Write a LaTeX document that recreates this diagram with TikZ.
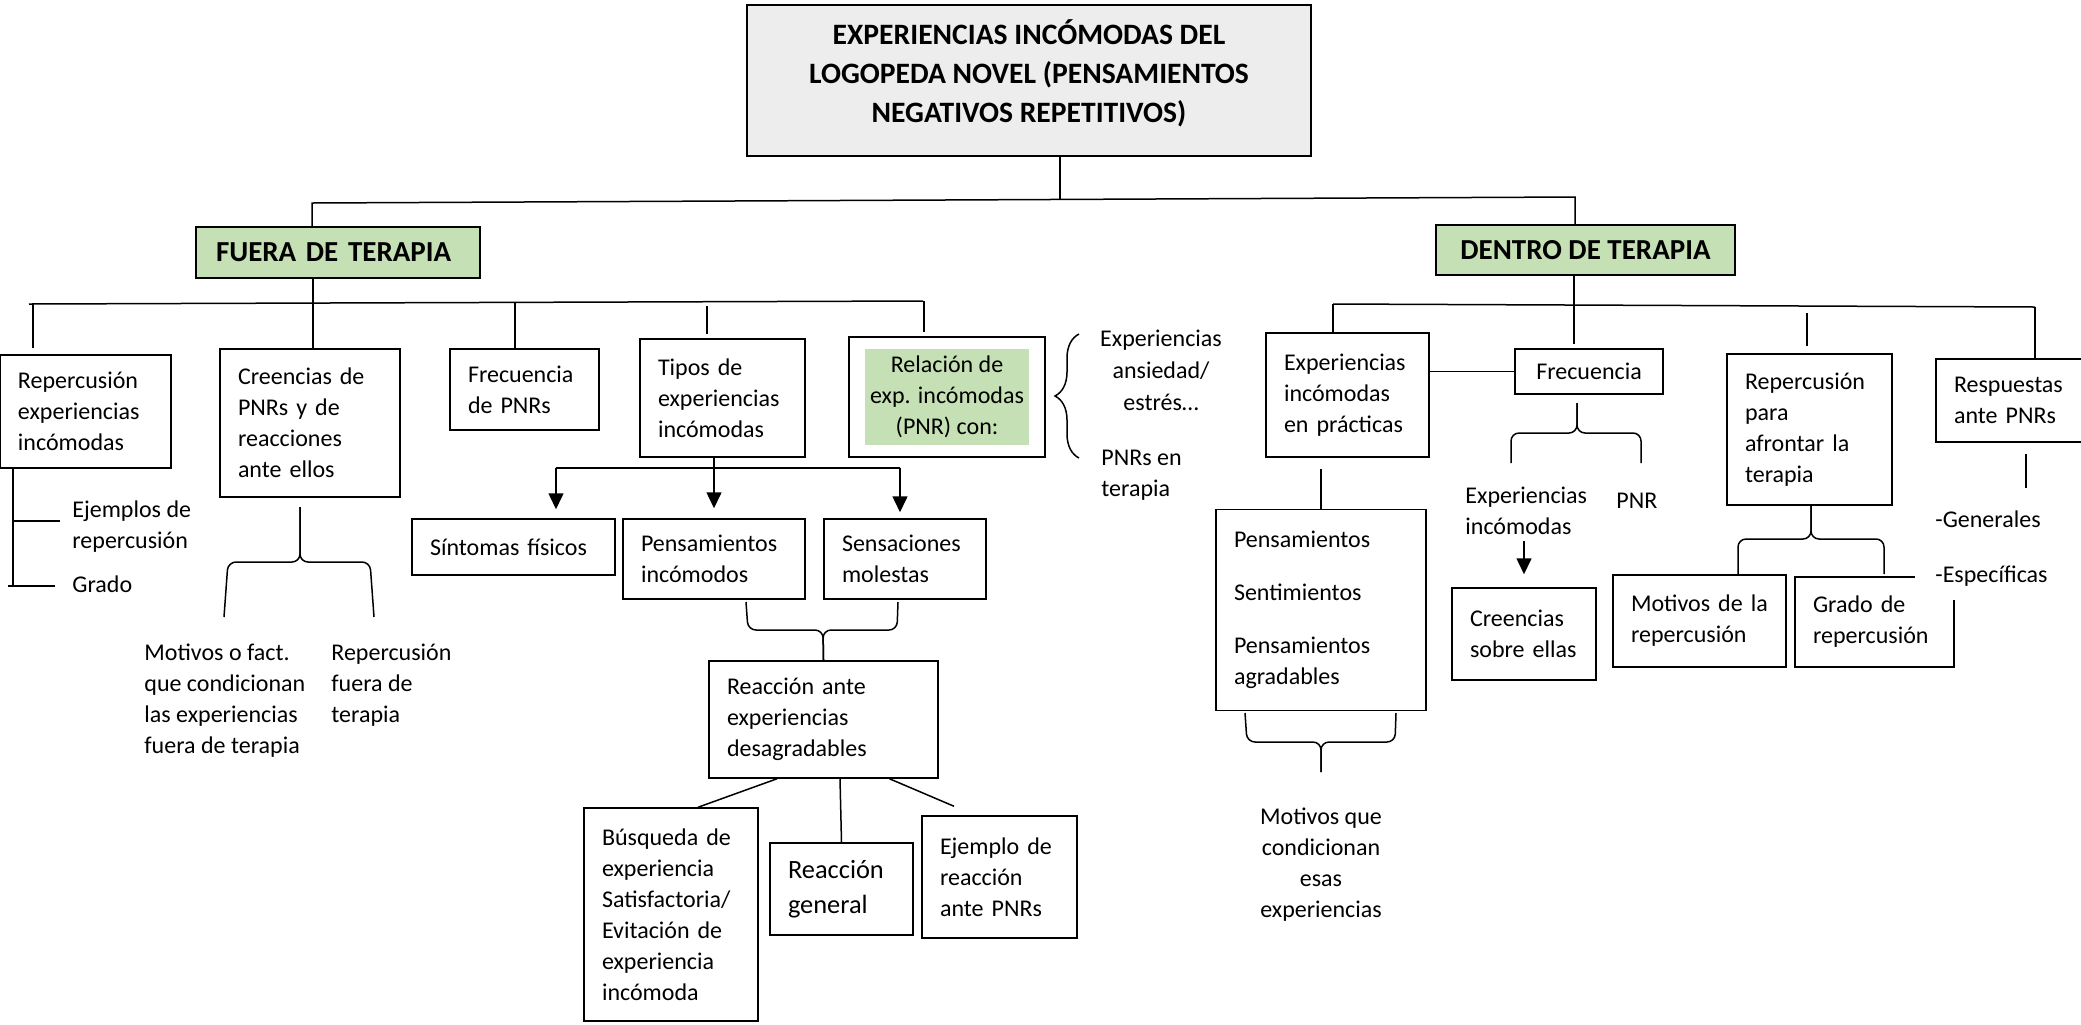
\documentclass[tikz,border=0pt]{standalone}
\usepackage{fontspec}
\setmainfont{Carlito}
\usetikzlibrary{arrows.meta,decorations.pathreplacing}

\definecolor{headgreen}{HTML}{C5E0B4}
\definecolor{titlegray}{HTML}{EDEDED}

\tikzset{
	box/.style={draw, line width=0.75pt, inner sep=0pt, align=left, font=\fontsize{12}{15.5}\selectfont},
	note/.style={inner sep=0pt, align=left, font=\fontsize{12}{15.5}\selectfont},
	head/.style={draw, line width=0.75pt, fill=headgreen, inner sep=0pt, font=\fontsize{14.5}{18}\selectfont\bfseries},
	link/.style={line width=0.75pt},
	arr/.style={line width=0.75pt, -{Triangle[length=8pt,width=7.5pt]}},
	bracket/.style={line width=0.75pt, rounded corners=4pt},
}

\begin{document}
\begin{tikzpicture}[x=0.5pt, y=-0.5pt]
	\useasboundingbox (0,0) rectangle (2081,1024);

	% titulo
	\node[draw, line width=0.75pt, fill=titlegray, minimum width=282pt, minimum height=75.5pt, align=center, font=\fontsize{14.8}{19.5}\selectfont\bfseries] (title) at (1029,80.5) {EXPERIENCIAS INCÓMODAS DEL\\LOGOPEDA NOVEL (PENSAMIENTOS\\NEGATIVOS REPETITIVOS)\\[-10pt]\mbox{}};

	\node[head, minimum width=142pt, minimum height=25.5pt, text width=122pt, align=left] (fuera) at (338,252.5) {FUERA DE TERAPIA};
	\node[head, minimum width=149.5pt, minimum height=25pt, align=center] (dentro) at (1585.5,250) {DENTRO DE TERAPIA};

	\coordinate (tj) at (1060,199);
	\coordinate (tl) at (312,203);
	\coordinate (tr) at (1575,197);
	\draw[link] (tj |- title.south) -- (tj);
	\draw[link] (tl |- fuera.north) -- (tl) -- (tr) -- (tr |- dentro.north);

	% fuera de terapia
	\node[box, minimum width=85.5pt, text width=67.5pt, minimum height=56.5pt] (rep) at (85.5,411.5) {Repercusión\\experiencias\\incómodas};
	\node[box, minimum width=90pt, text width=72pt, minimum height=74pt] (cre) at (310,423) {Creencias de\\PNRs y de\\reacciones\\ante ellos};
	\node[box, minimum width=74.5pt, text width=56.5pt, minimum height=40.5pt] (frec) at (524.5,389.5) {Frecuencia\\de PNRs};
	\node[box, minimum width=82.5pt, text width=64.5pt, minimum height=59pt] (tipos) at (722.5,398) {Tipos de\\experiencias\\incómodas};
	\node[box, minimum width=98pt, minimum height=60pt] (rel) at (947,397) {};
	\node[box, draw=none, fill=headgreen, minimum width=82pt, minimum height=48pt, align=center] (relin) at (rel.center) {Relación de\\exp. incómodas\\(PNR) con:};

	\coordinate (fl) at (29,304);
	\coordinate (fr) at (923,301);
	\coordinate (f1) at (33,304);
	\coordinate (f2) at (313,304);
	\coordinate (f3) at (515,302);
	\coordinate (f4) at (707,306);
	\coordinate (f5) at (924,301);
	\draw[link] (fl) -- (fr);
	\draw[link, shorten >=3pt] (f1) -- (f1 |- rep.north);
	\draw[link] (f2 |- fuera.south) -- (f2 |- cre.north);
	\draw[link] (f3) -- (f3 |- frec.north);
	\draw[link, shorten >=2pt] (f4) -- (f4 |- tipos.north);
	\draw[link, shorten >=2pt] (f5) -- (f5 |- rel.north);

	% repercusion
	\node[note, anchor=west] (ejem) at (72,527) {Ejemplos de\\repercusión};
	\node[note, anchor=west] (grado1) at (72,584) {Grado};
	\coordinate (ej) at (13,586);
	\draw[link] (ej |- rep.south) -- (ej);
	\draw[link] (13,521) -- (60,521);
	\draw[link] (8,586) -- (55,586);

	% creencias
	\draw[bracket] (224,617) -- (228,562) -- (300,562) -- (300,507);
	\draw[bracket] (374,617) -- (370,562) -- (300,562) -- (300,507);
	\node[note, anchor=west] (motf) at (144,700.5) {Motivos o fact.\\que condicionan\\las experiencias\\fuera de terapia};
	\node[note, anchor=west] (repf) at (331,685.5) {Repercusión\\fuera de\\terapia};

	% relacion
	\draw[link, decorate, decoration={brace, amplitude=12pt}] (1079,458) -- (1079,334);
	\node[note, align=center, font=\fontsize{12}{16}\selectfont] (ansi) at (1161,370) {Experiencias\\ansiedad/\\estrés…};
	\node[note, anchor=west] (pnrt) at (1101,475) {PNRs en\\terapia};

	% tipos
	\node[box, minimum width=101.5pt, text width=83.5pt, minimum height=28pt] (sint) at (513.5,547) {Síntomas físicos};
	\node[box, minimum width=91pt, text width=73pt, minimum height=40pt] (pens) at (714,559) {Pensamientos\\incómodos};
	\node[box, minimum width=81pt, text width=63pt, minimum height=40pt] (sens) at (905,559) {Sensaciones\\molestas};

	\coordinate (al) at (556,468);
	\coordinate (ar) at (900,468);
	\draw[link] (al) -- (ar);
	\draw[arr, shorten >=4.5pt] (al) -- (al |- sint.north);
	\draw[arr, shorten >=3pt] (ar) -- (ar |- sens.north);
	\draw[arr, shorten >=5pt] (tipos.south -| pens.north) -- (pens.north);

	\node[box, minimum width=114.5pt, text width=96.5pt, minimum height=58.5pt] (reac) at (823.5,719.5) {Reacción ante\\experiencias\\desagradables};
	\draw[bracket] (746,602) -- (748,630) -- (823,630) -- (reac.north);
	\draw[bracket] (898,602) -- (897,630) -- (823,630) -- (reac.north);

	\node[box, minimum width=87pt, text width=69pt, minimum height=106.5pt] (busq) at (671,914.5) {Búsqueda de\\experiencia\\Satisfactoria/\\Evitación de\\experiencia\\incómoda};
	\node[box, minimum width=71.5pt, text width=53.5pt, minimum height=46pt, font=\fontsize{13.2}{17.5}\selectfont] (rgen) at (841.5,889) {Reacción\\general};
	\node[box, minimum width=77.5pt, text width=59.5pt, minimum height=61pt] (ejr) at (999.5,877) {Ejemplo de\\reacción\\ante PNRs};
	\draw[link] ([xshift=-23.25pt]reac.south) -- ([xshift=13.5pt]busq.north);
	\draw[link] ([xshift=8.25pt]reac.south) -- (rgen.north);
	\draw[link] ([xshift=33pt]reac.south) -- ([xshift=-22.75pt,yshift=4.5pt]ejr.north);

	% dentro de terapia
	\node[box, minimum width=81.5pt, text width=63.5pt, minimum height=62pt] (prac) at (1347.5,395) {Experiencias\\incómodas\\en prácticas};
	\node[box, minimum width=74pt, minimum height=22.5pt, align=center] (frec2) at (1589,371.5) {Frecuencia};
	\node[box, minimum width=82.5pt, text width=64.5pt, minimum height=75.5pt] (rep2) at (1809.5,429.5) {Repercusión\\para\\afrontar la\\terapia};
	\node[box, minimum width=77pt, text width=59pt, minimum height=41.5pt] (resp) at (2013,400.5) {Respuestas\\ante PNRs};

	\coordinate (dl) at (1333,304);
	\coordinate (dr) at (2035,307);
	\coordinate (d2) at (1574,275);
	\coordinate (d3) at (1807,313);
	\draw[link] (dl) -- (dr);
	\draw[link] (dl) -- (dl |- prac.north);
	\draw[link, shorten >=2pt] (d2 |- dentro.south) -- (d2 |- frec2.north);
	\draw[link, shorten >=3.5pt] (d3) -- (d3 |- rep2.north);
	\draw[link] (dr) -- (dr |- resp.north);
	\draw[link] (frec2.west) -- (frec2.west -| prac.east);

	% practicas
	\node[box, minimum width=105pt, text width=87pt, minimum height=100.5pt] (pens2) at (1321,610) {Pensamientos\\[11pt]Sentimientos\\[11pt]Pensamientos\\agradables};
	\draw[link, shorten >=5.5pt] (pens2.north) -- (pens2.north |- prac.south);
	\draw[bracket] (1245,713) -- (1247,742) -- (1321,742) -- (1321,772);
	\draw[bracket] (1396,713) -- (1395,742) -- (1321,742) -- (1321,772);
	\node[note, align=center] (motp) at (1321,864.5) {Motivos que\\condicionan\\esas\\experiencias};

	% frecuencia
	\draw[bracket] (1511,463) -- (1511,433) -- (1577,433) -- (1577,403);
	\draw[bracket] (1641,463) -- (1641,433) -- (1577,433) -- (1577,403);
	\node[note, anchor=west] (expinc) at (1465,511) {Experiencias\\incómodas};
	\node[note, anchor=west] (pnr) at (1616,501) {PNR};
	\node[box, minimum width=72pt, text width=54pt, minimum height=46pt] (cree2) at (1524,634) {Creencias\\sobre ellas};
	\draw[arr, shorten <=3pt, shorten >=6.5pt] (expinc.south -| cree2.north) -- (cree2.north);

	% repercusion para afrontar
	\node[box, minimum width=86.5pt, text width=68.5pt, minimum height=46pt] (mot) at (1699.5,621) {Motivos de la\\repercusión};
	\node[box, minimum width=79.5pt, text width=61.5pt, minimum height=45pt] (grado2) at (1874.5,622) {Grado de\\repercusión};
	\draw[bracket] (1738,574) -- (1738,539) -- (1811,539) -- (1811,505);
	\draw[bracket] (1884,574) -- (1884,539) -- (1811,539) -- (1811,505);

	% respuestas
	\coordinate (rs) at (2026,488);
	\draw[link, shorten <=5.5pt] (rs |- resp.south) -- (rs);
	\node[note, anchor=west] (gen) at (1935,519) {-Generales};
	\node[note, anchor=west, fill=white, inner xsep=10pt, inner ysep=7pt] (esp) at (1915,576) {-Específicas};
\end{tikzpicture}
\end{document}
